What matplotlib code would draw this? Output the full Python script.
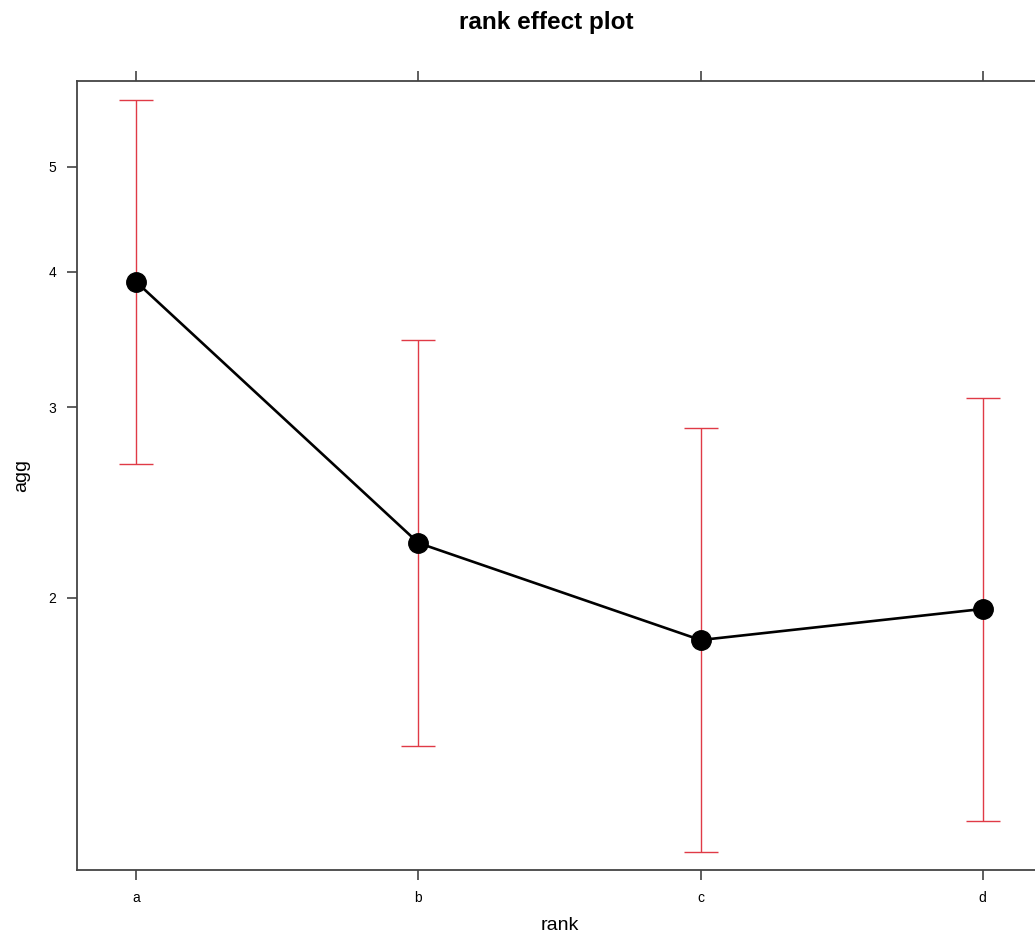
import matplotlib
matplotlib.use("Agg")
import matplotlib.pyplot as plt
from matplotlib.ticker import FixedLocator, NullLocator, FixedFormatter

plt.rcParams["font.family"] = ["Liberation Sans", "DejaVu Sans"]

# Effect estimates for each rank level, with confidence limits
categories = ["a", "b", "c", "d"]
fit = [3.915, 2.248, 1.829, 1.954]
lower = [2.659, 1.460, 1.166, 1.245]
upper = [5.765, 3.461, 2.871, 3.060]
y_ticks = [2, 3, 4, 5]

W, H, DPI = 1035, 942, 100
fig = plt.figure(figsize=(W / DPI, H / DPI), dpi=DPI)

# panel extends slightly past the right edge of the figure
left_px, right_px, top_px, bottom_px = 77, 1042, 81, 870
ax = fig.add_axes([left_px / W, 1 - bottom_px / H,
                   (right_px - left_px) / W, (bottom_px - top_px) / H])

xs = list(range(1, len(categories) + 1))
yerr = [[f - l for f, l in zip(fit, lower)], [u - f for f, u in zip(fit, upper)]]

ax.errorbar(xs, fit, yerr=yerr, fmt="none", ecolor="#e03a46", elinewidth=1.0,
            capsize=11.9, capthick=1.0, zorder=2)
ax.plot(xs, fit, color="black", lw=1.9, zorder=3)
ax.plot(xs, fit, "o", color="black", ms=14, zorder=4)

ax.set_yscale("log")
ax.set_ylim(1.122, 6.0)
ax.set_xlim(0.79, 4.21)

ax.yaxis.set_major_locator(FixedLocator(y_ticks))
ax.yaxis.set_major_formatter(FixedFormatter([str(t) for t in y_ticks]))
ax.yaxis.set_minor_locator(NullLocator())
ax.set_xticks(xs)
ax.set_xticklabels(categories)

for s in ax.spines.values():
    s.set_color("#444444")
    s.set_linewidth(1.3)

ax.tick_params(axis="both", direction="out", length=7, width=1.1,
               color="#333333", labelsize=10, pad=8)
ax.tick_params(axis="x", top=True, labeltop=False)
ax.tick_params(axis="y", right=False)

ax.set_xlabel("rank", fontsize=14, labelpad=9)
ax.set_ylabel("agg", fontsize=14, labelpad=13)
fig.text(546 / W, 1 - 23 / H, "rank effect plot",
         ha="center", va="center", fontsize=17.5, fontweight="bold")

fig.savefig("out.png", dpi=DPI)
